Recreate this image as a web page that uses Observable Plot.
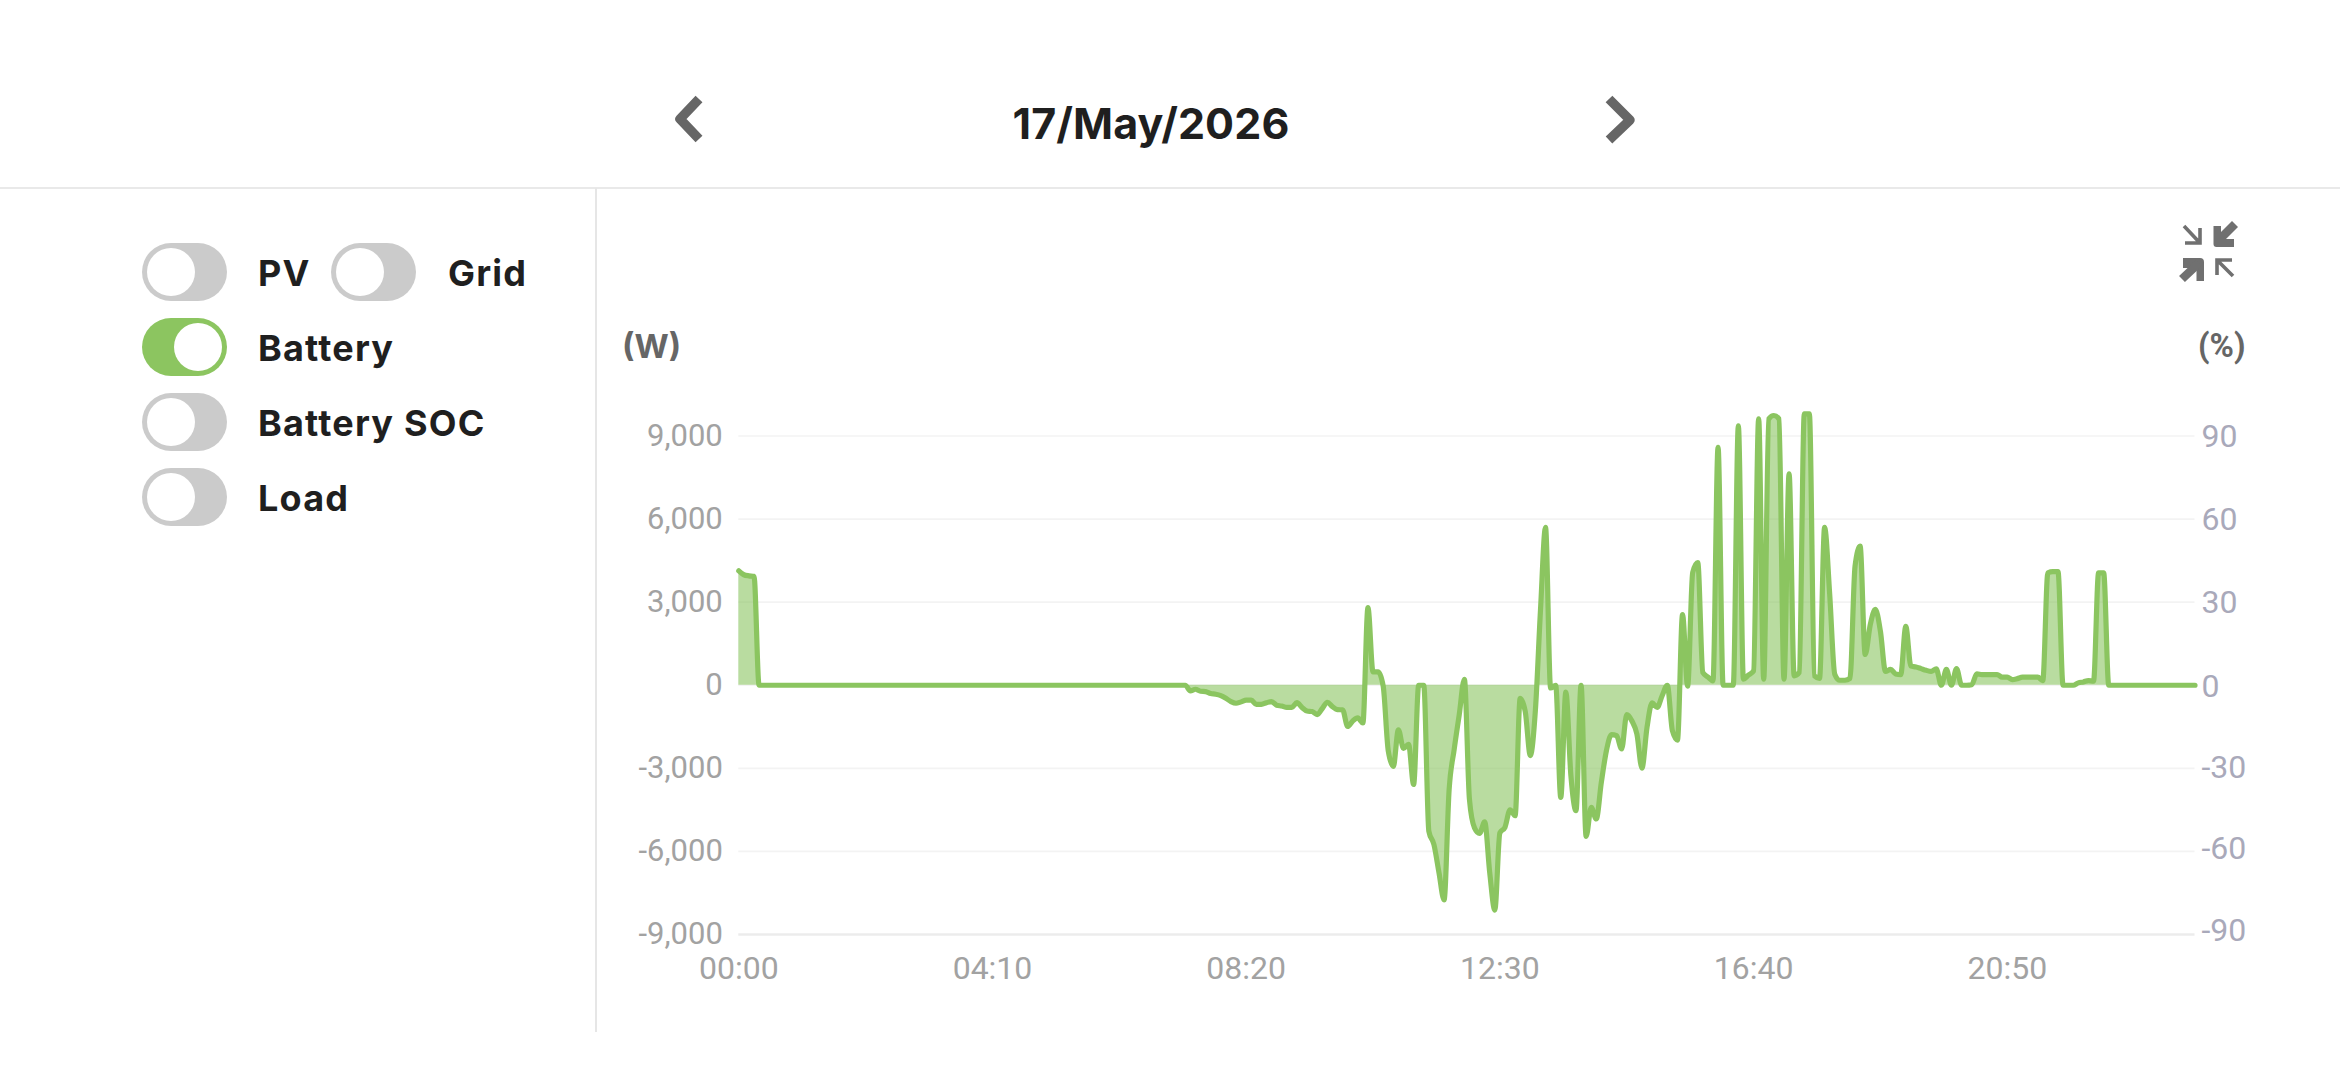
<!DOCTYPE html>
<html>
<head>
<meta charset="utf-8">
<script src="https://cdn.jsdelivr.net/npm/d3@7"></script>
<script src="https://cdn.jsdelivr.net/npm/@observablehq/plot@0.6"></script>
<style>
  html,body{margin:0;padding:0;background:#fff;width:2340px;height:1080px;overflow:hidden;font-family:Inter,sans-serif}
  .abs{position:absolute}
  .title{left:901px;width:500px;top:93px;height:60px;line-height:60px;text-align:center;font-weight:700;font-size:43px;color:#1f1f1f;letter-spacing:0.1px}
  .hline{left:0;top:187px;width:2340px;height:2px;background:#e9e9e9}
  .vline{left:595px;top:188px;width:2px;height:844px;background:#e6e6e6}
  .track{width:85px;height:58px;border-radius:29px;background:#cbcbcb}
  .track.on{background:#8cc560}
  .knob{position:absolute;top:5px;left:5px;width:48px;height:48px;border-radius:50%;background:#fff}
  .track.on .knob{left:32px}
  .lab{font-weight:700;font-size:36px;letter-spacing:1.2px;line-height:60px;height:60px;color:#1f1f1f;white-space:nowrap}
  .unit{font-weight:700;color:#666;line-height:40px}
  #chart{position:absolute;left:600px;top:190px}
  #chart svg{display:block}
</style>
</head>
<body>
<div class="abs title" id="date"></div>
<div class="abs hline"></div>
<div class="abs vline"></div>
<svg class="abs" style="left:0;top:0" width="2340" height="300" id="chrome">
  <polyline points="699,99 680,119 699,139" fill="none" stroke="#666" stroke-width="9.5" stroke-linejoin="round"/>
  <polyline points="1609,99 1630,120 1609,140" fill="none" stroke="#666" stroke-width="9.5" stroke-linejoin="round"/>
  <g fill="none" stroke="#707070" stroke-width="3.6">
    <path d="M2184 226L2200 243M2185 243H2200V228"/>
    <path d="M2233 276L2217 260M2232 260H2217V275"/>
  </g>
  <g fill="#707070">
    <path d="M2213.5 226H2221V239H2234V247H2216.5Q2213.5 247 2213.5 244Z"/>
    <path d="M2204 281H2196.5V268H2183V258H2200Q2204 258 2204 262Z"/>
  </g>
  <g stroke="#707070" stroke-width="8.5">
    <path d="M2218 241L2235 224"/>
    <path d="M2199 263L2182 279"/>
  </g>
</svg>
<div id="legend"></div>
<div class="abs unit" style="left:622px;top:326px;font-size:33px;font-family:Inter,sans-serif">(W)</div>
<div class="abs unit" style="left:2198px;top:326px;font-size:33px;font-family:Roboto,sans-serif">(%)</div>
<div id="chart"></div>
<script>
const dateLabel = "17/May/2026";
const legendNames = ["PV","Grid","Battery","Battery SOC","Load"];
const legendOn = [false,false,true,false,false];
const xTicks = [0,250,500,750,1000,1250];
const xTickLabels = ["00:00","04:10","08:20","12:30","16:40","20:50"];
const leftTicks = [9000,6000,3000,0,-3000,-6000,-9000];
const leftTickLabels = ["9,000","6,000","3,000","0","-3,000","-6,000","-9,000"];
const rightTicks = [90,60,30,0,-30,-60,-90];
// Battery power, one reading every five minutes from 00:00 to 23:55 (W)
const batteryW = [
  4130,3990,3950,3930,
  0,0,0,0,0,0,0,0,0,0,0,0,0,0,0,0,0,0,0,0,0,0,0,0,0,0,0,0,
  0,0,0,0,0,0,0,0,0,0,0,0,0,0,0,0,0,0,0,0,0,0,0,0,0,0,0,0,
  0,0,0,0,0,0,0,0,0,0,0,0,0,0,0,0,0,0,0,0,0,0,0,0,0,0,0,0,
  0,
  -200,-145,-217,-230,-300,-325,-375,-470,-590,-650,-600,
  -540,-540,-690,-690,-630,-590,-720,-750,-800,-800,
  -630,-800,-930,-950,-1060,-840,-615,-770,-880,-890,
  -1490,-1290,-1180,-1360,2800,480,480,-30,-2370,-2930,
  -1610,-2280,-2130,-3580,0,0,-5270,-5750,-6770,-7750,
  -3760,-2310,-1050,217,-4120,-5150,-5350,-4930,-6770,-8120,
  -5330,-5130,-4500,-4710,-470,-950,-2540,-900,2700,5700,
  -100,0,-4050,-250,-3270,-4530,0,-5460,-4410,-4830,
  -3500,-2360,-1780,-1820,-2300,-1060,-1280,-1760,-2990,-1520,
  -640,-800,-370,0,-1640,-1980,2550,-30,4070,4430,
  460,300,160,8590,0,0,0,9370,220,370,
  520,9620,220,9620,9740,9620,220,7630,340,460,
  9800,9800,340,250,5700,3290,400,180,180,250,
  4300,5020,1110,2190,2740,1950,500,570,410,385,
  2130,690,660,600,540,500,590,0,570,0,
  600,0,0,20,410,385,385,385,385,290,
  290,205,240,290,290,290,290,170,4060,4100,
  4100,0,0,0,85,120,170,145,4060,4060,
  0,0,0,0,0,0,0,0,0,0,0,0,0,0,0,0,0,0
];
const minutes = batteryW.map((_, i) => i * 5);
const rows = batteryW.map((w, i) => ({minute: minutes[i], w}));

document.getElementById("date").textContent = dateLabel;

const legendSlots = [
  {x:142, y:243, tx:258}, {x:331, y:243, tx:448},
  {x:142, y:318, tx:258}, {x:142, y:393, tx:258}, {x:142, y:468, tx:258}
];
const legendEl = document.getElementById("legend");
legendNames.forEach((name, i) => {
  const s = legendSlots[i];
  const t = document.createElement("div");
  t.className = "abs track" + (legendOn[i] ? " on" : "");
  t.style.left = s.x + "px"; t.style.top = s.y + "px";
  const k = document.createElement("div"); k.className = "knob"; t.appendChild(k);
  const l = document.createElement("div");
  l.className = "abs lab"; l.textContent = name;
  l.style.left = s.tx + "px"; l.style.top = s.y + "px";
  legendEl.append(t, l);
});

const lineColor = "#8bc560";
const plot = Plot.plot({
  width: 1740, height: 890,
  marginLeft: 138.3, marginRight: 145.5, marginTop: 245.5, marginBottom: 146,
  x: {domain: [0, 1435]},
  y: {domain: [-9000, 9000]},
  style: {fontFamily: "Roboto, sans-serif", fontSize: "30px", background: "transparent", overflow: "visible"},
  marks: [
    Plot.gridY(leftTicks.slice(0, -1), {stroke: "#f3f3f3", strokeOpacity: 1, strokeWidth: 1.6}),
    Plot.ruleY([-9000], {stroke: "#ececec", strokeWidth: 2.4}),
    Plot.axisY({
      ticks: leftTicks, tickSize: 0, tickPadding: 16, label: null,
      tickFormat: d => leftTickLabels[leftTicks.indexOf(d)],
      fill: "#a2a2a2", fontSize: 31
    }),
    Plot.axisX({
      ticks: xTicks, tickSize: 0, tickPadding: 22, label: null,
      tickFormat: d => xTickLabels[xTicks.indexOf(d)],
      fill: "#a2a2a2", fontSize: 32
    }),
    Plot.areaY(rows, {x: "minute", y1: 0, y2: "w", curve: "monotone-x", fill: lineColor, fillOpacity: 0.6}),
    Plot.lineY(rows, {x: "minute", y: "w", curve: "monotone-x", stroke: lineColor, strokeWidth: 5.2}),
    Plot.text(rightTicks, {
      x: () => 1435, y: d => d * (d < 0 ? 98 : 100), text: d => String(d),
      dx: 6.5, dy: 1, textAnchor: "start", fill: "#a9a9ba", fontSize: 32
    })
  ]
});
document.getElementById("chart").appendChild(plot);
</script>
</body>
</html>
